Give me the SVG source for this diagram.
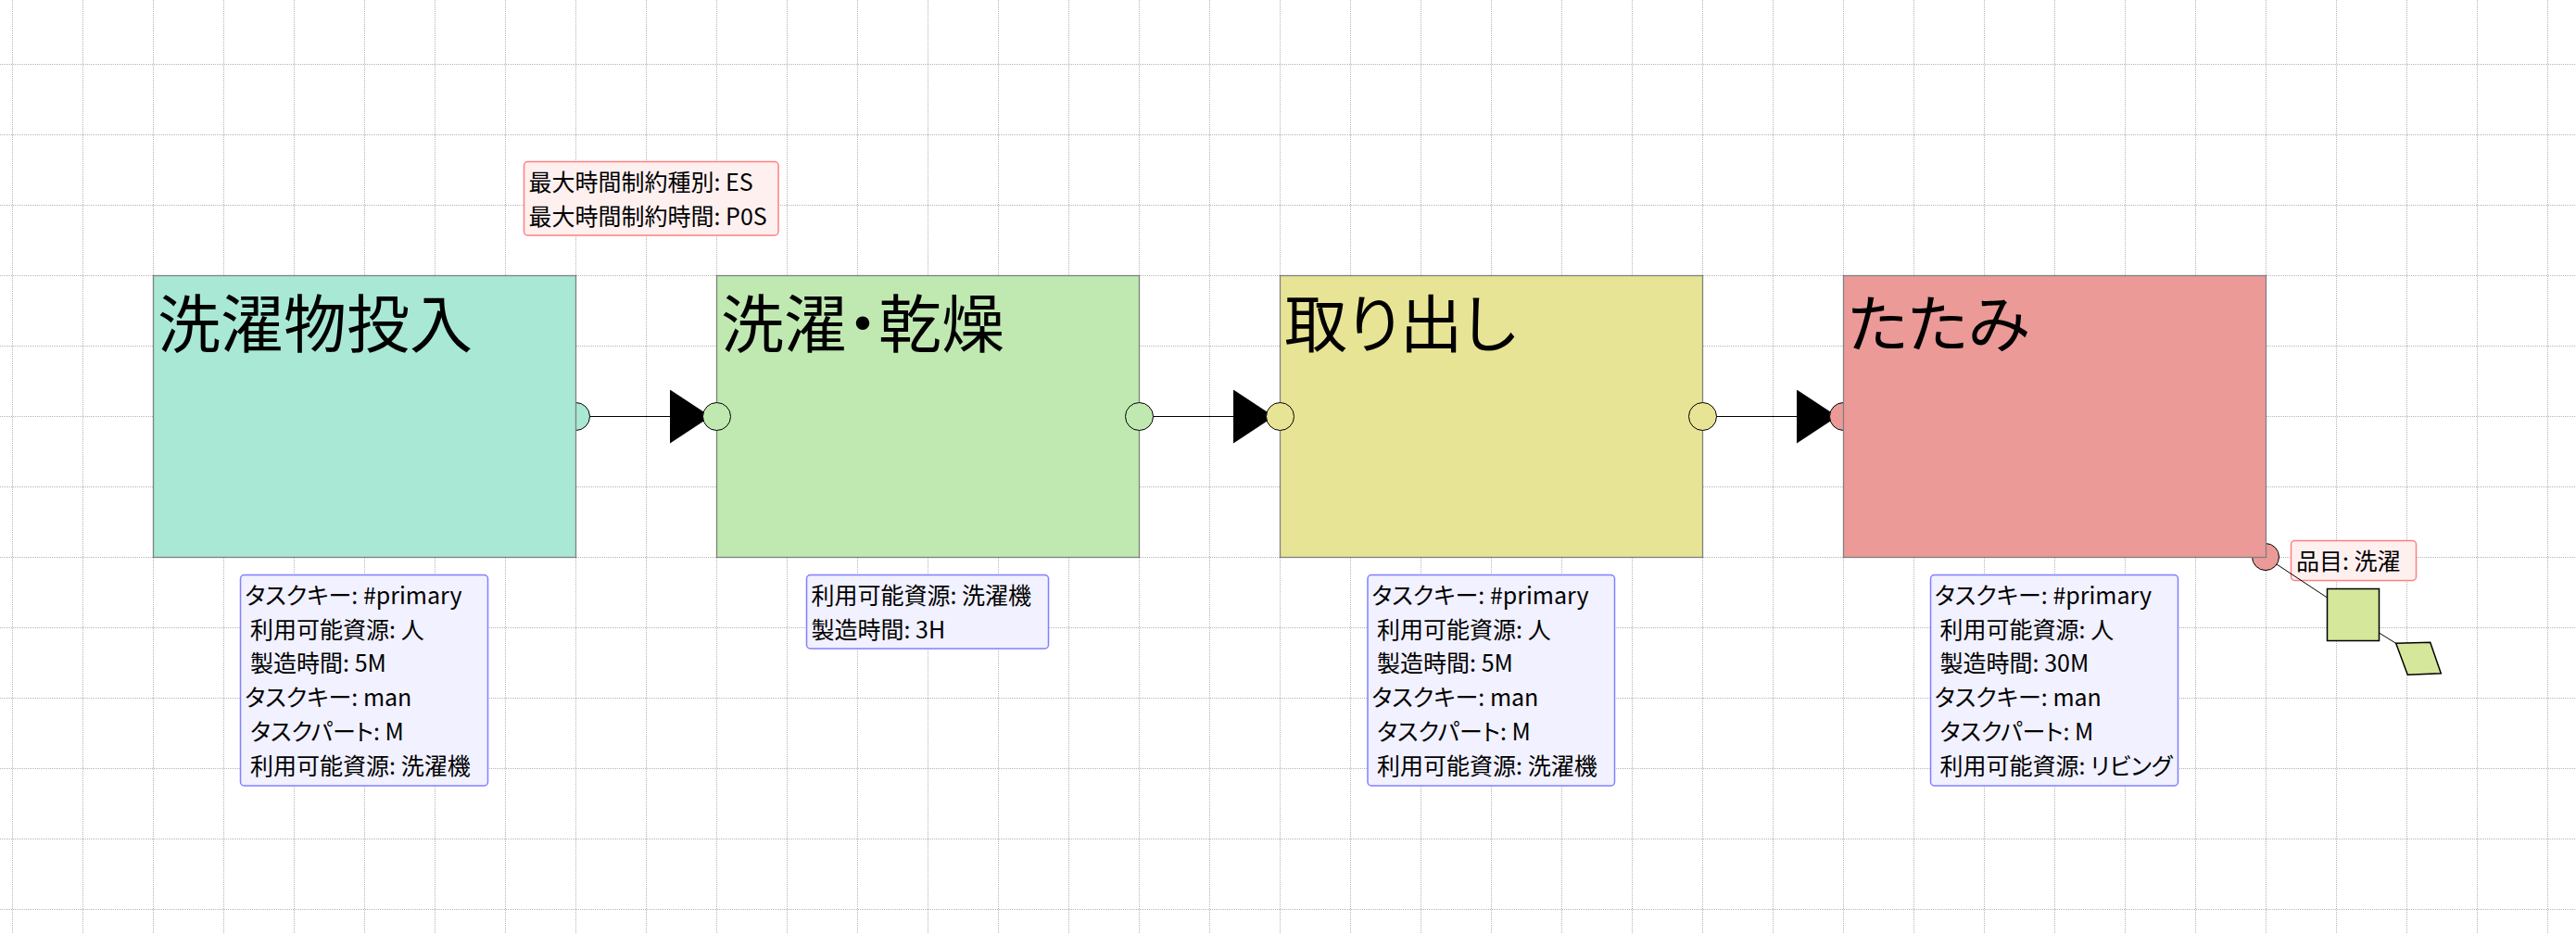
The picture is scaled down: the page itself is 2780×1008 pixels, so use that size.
<svg xmlns="http://www.w3.org/2000/svg" width="2780" height="1008" viewBox="0 0 2780 1008">
<style>
text{font-family:"Noto Sans CJK JP","Noto Sans",sans-serif;fill:#000;font-feature-settings:"palt";}
.grid{stroke:#b4b4b4;stroke-width:1;stroke-dasharray:1 1;fill:none;}
.box{stroke:#808080;stroke-width:1.3;}
.title{font-size:68px;}
.port{stroke:#000;stroke-width:1;}
.conn{stroke:#000;stroke-width:1.2;fill:none;}
.thin{stroke:#000;stroke-width:1;fill:none;}
.noteB{fill:#f1f1ff;stroke:#8080ff;stroke-width:1.5;}
.noteR{fill:#fff0f0;stroke:#ff8080;stroke-width:1.5;}
.nt{font-size:25px;}
.item{fill:#d4e79a;stroke:#000;stroke-width:1.5;}
</style>
<defs>
<marker id="arrow" viewBox="0 0 44 58" refX="44" refY="29" markerWidth="44" markerHeight="58" markerUnits="userSpaceOnUse" orient="auto">
<path d="M0,0 L44,29 L0,58 Z" fill="#000"/>
</marker>
</defs>
<rect width="2780" height="1008" fill="#fff"/>
<path class="grid" d="M13.5,0V1008M89.5,0V1008M165.5,0V1008M241.5,0V1008M317.5,0V1008M393.5,0V1008M469.5,0V1008M545.5,0V1008M621.5,0V1008M697.5,0V1008M773.5,0V1008M849.5,0V1008M925.5,0V1008M1001.5,0V1008M1077.5,0V1008M1153.5,0V1008M1229.5,0V1008M1305.5,0V1008M1381.5,0V1008M1457.5,0V1008M1533.5,0V1008M1609.5,0V1008M1685.5,0V1008M1761.5,0V1008M1837.5,0V1008M1913.5,0V1008M1989.5,0V1008M2065.5,0V1008M2141.5,0V1008M2217.5,0V1008M2293.5,0V1008M2369.5,0V1008M2445.5,0V1008M2521.5,0V1008M2597.5,0V1008M2673.5,0V1008M2749.5,0V1008M0,69.5H2780M0,145.5H2780M0,221.5H2780M0,297.5H2780M0,373.5H2780M0,449.5H2780M0,525.5H2780M0,601.5H2780M0,677.5H2780M0,753.5H2780M0,829.5H2780M0,905.5H2780M0,981.5H2780"/>

<g id="notes">
<g id="note-constraint">
<rect class="noteR" x="565.5" y="174.5" width="274.5" height="79.5" rx="4"/>
<text class="nt" x="570.5" y="206">最大時間制約種別: ES</text>
<text class="nt" x="570.5" y="242.7">最大時間制約時間: P0S</text>
</g>
<g id="note-task1">
<rect class="noteB" x="259.5" y="620.5" width="267" height="227.5" rx="4"/>
<text class="nt" xml:space="preserve" x="264.5" y="652">タスクキー: #primary</text>
<text class="nt" xml:space="preserve" x="264.5" y="688.7"> 利用可能資源: 人</text>
<text class="nt" xml:space="preserve" x="264.5" y="725.4"> 製造時間: 5M</text>
<text class="nt" xml:space="preserve" x="264.5" y="762.1">タスクキー: man</text>
<text class="nt" xml:space="preserve" x="264.5" y="798.8"> タスクパート: M</text>
<text class="nt" xml:space="preserve" x="264.5" y="835.5"> 利用可能資源: 洗濯機</text>
</g>
<g id="note-task2">
<rect class="noteB" x="870.5" y="620.5" width="261" height="79.5" rx="4"/>
<text class="nt" x="875.5" y="652">利用可能資源: 洗濯機</text>
<text class="nt" x="875.5" y="688.7">製造時間: 3H</text>
</g>
<g id="note-task3">
<rect class="noteB" x="1476" y="620.5" width="266.5" height="227.5" rx="4"/>
<text class="nt" xml:space="preserve" x="1480.5" y="652">タスクキー: #primary</text>
<text class="nt" xml:space="preserve" x="1480.5" y="688.7"> 利用可能資源: 人</text>
<text class="nt" xml:space="preserve" x="1480.5" y="725.4"> 製造時間: 5M</text>
<text class="nt" xml:space="preserve" x="1480.5" y="762.1">タスクキー: man</text>
<text class="nt" xml:space="preserve" x="1480.5" y="798.8"> タスクパート: M</text>
<text class="nt" xml:space="preserve" x="1480.5" y="835.5"> 利用可能資源: 洗濯機</text>
</g>
<g id="note-task4">
<rect class="noteB" x="2083.5" y="620.5" width="267" height="227.5" rx="4"/>
<text class="nt" xml:space="preserve" x="2088" y="652">タスクキー: #primary</text>
<text class="nt" xml:space="preserve" x="2088" y="688.7"> 利用可能資源: 人</text>
<text class="nt" xml:space="preserve" x="2088" y="725.4"> 製造時間: 30M</text>
<text class="nt" xml:space="preserve" x="2088" y="762.1">タスクキー: man</text>
<text class="nt" xml:space="preserve" x="2088" y="798.8"> タスクパート: M</text>
<text class="nt" xml:space="preserve" x="2088" y="835.5"> 利用可能資源: リビング</text>
</g>
<g id="note-item">
<rect class="noteR" x="2472.5" y="583.5" width="135" height="43" rx="4"/>
<text class="nt" x="2478" y="614.5">品目: 洗濯</text>
</g>
</g>

<g id="connectors">
<path class="conn" d="M636,449.5H767" marker-end="url(#arrow)"/>
<path class="conn" d="M1244,449.5H1375" marker-end="url(#arrow)"/>
<path class="conn" d="M1852,449.5H1983" marker-end="url(#arrow)"/>
<path class="thin" d="M2457,609L2511.5,645"/>
<path class="thin" d="M2567.5,683L2586,694.5"/>
</g>

<g id="task1">
<circle class="port" cx="621.5" cy="449.5" r="15" fill="#a8e8d4"/>
<rect class="box" x="165.5" y="297.5" width="456" height="304" fill="#a8e8d4"/>
<text class="title" x="170" y="375">洗濯物投入</text>
</g>
<g id="task2">
<rect class="box" x="773.5" y="297.5" width="456" height="304" fill="#c0e9b2"/>
<text class="title" x="778" y="375">洗濯・乾燥</text>
<circle class="port" cx="773.5" cy="449.5" r="15" fill="#c0e9b2"/>
<circle class="port" cx="1229.5" cy="449.5" r="15" fill="#c0e9b2"/>
</g>
<g id="task3">
<rect class="box" x="1381.5" y="297.5" width="456" height="304" fill="#e8e496"/>
<text class="title" x="1386" y="375">取り出し</text>
<circle class="port" cx="1381.5" cy="449.5" r="15" fill="#e8e496"/>
<circle class="port" cx="1837.5" cy="449.5" r="15" fill="#e8e496"/>
</g>
<g id="task4">
<circle class="port" cx="1989.5" cy="449.5" r="15" fill="#eb9a97"/>
<circle class="port" cx="2445" cy="601" r="14.5" fill="#eb9a97"/>
<rect class="box" x="1989.5" y="297.5" width="456" height="304" fill="#eb9a97"/>
<text class="title" x="1994" y="375">たたみ</text>
</g>
<g id="item-square">
<rect class="item" x="2511.5" y="635.5" width="56" height="56"/>
</g>
<g id="item-parallelogram">
<polygon class="item" points="2585.7,694.3 2622.7,693.3 2634.3,726.7 2598.3,728.3"/>
</g>
</svg>
